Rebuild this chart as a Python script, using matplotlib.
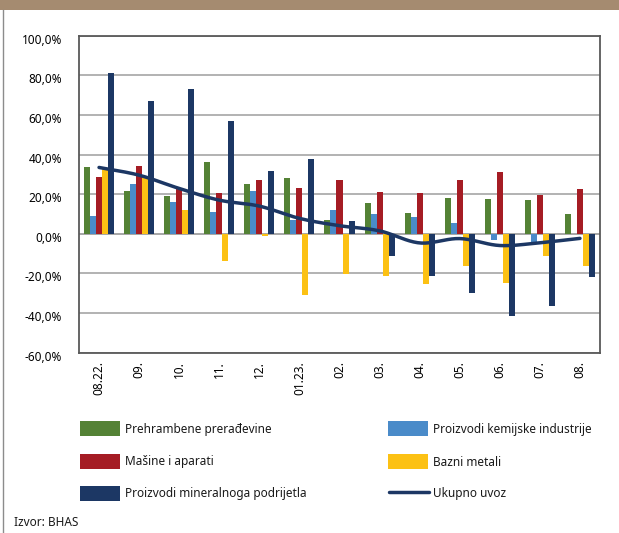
import numpy as np
import matplotlib
matplotlib.use("Agg")
import matplotlib.pyplot as plt
import matplotlib.transforms as mtransforms
from matplotlib.patches import Rectangle
from matplotlib.lines import Line2D

categories = ["08.22.", "09.", "10.", "11.", "12.", "01.23.", "02.", "03.", "04.", "05.", "06.", "07.", "08."]
prehrambene = [33.5, 21.7, 18.9, 36.4, 24.9, 28.3, 6.8, 15.5, 10.5, 18.2, 17.4, 16.9, 10.1]
kemijske = [8.9, 24.9, 15.9, 11.0, 21.4, 6.8, 12.0, 10.1, 8.4, 5.6, -3.2, -4.4, 0.0]
masine = [28.5, 34.2, 22.6, 20.6, 27.1, 22.9, 27.1, 21.2, 20.6, 27.1, 31.3, 19.5, 22.4]
bazni = [32.5, 28.8, 12.1, -13.8, -1.2, -30.8, -20.5, -21.5, -25.3, -16.0, -24.9, -11.1, -16.0]
mineralni = [81.0, 67.2, 73.1, 56.8, 31.7, 37.7, 6.6, -11.3, -21.4, -30.1, -41.7, -36.5, -22.0]
ukupno = [33.5, 29.6, 22.9, 17.0, 14.0, 7.8, 4.1, 1.5, -4.6, -2.4, -5.9, -4.5, -2.3]
yticks = [100, 80, 60, 40, 20, 0, -20, -40, -60]
ytick_labels = ["100,0%", "80,0%", "60,0%", "40,0%", "20,0%", "0,0%", "-20,0%", "-40,0%", "-60,0%"]

series_names = ["Prehrambene prerađevine", "Proizvodi kemijske industrije", "Mašine i aparati",
                "Bazni metali", "Proizvodi mineralnoga podrijetla"]
colors = ["#548235", "#4A8BC9", "#A51C24", "#FCC114", "#1C3764"]
line_color = "#1C3764"

plt.rcParams['font.family'] = ['Noto Sans', 'DejaVu Sans']

W, H = 619, 533
fig = plt.figure(figsize=(W / 100, H / 100), dpi=100)
fig.patch.set_facecolor("white")

# top brown band and left border
fig.add_artist(Rectangle((0, 1 - 10 / H), 1, 10 / H, transform=fig.transFigure,
                         facecolor="#A58B70", edgecolor="none"))
fig.add_artist(Line2D([3 / W, 3 / W], [0, 1 - 10 / H], transform=fig.transFigure,
                      color="#8C8C8C", lw=1.0))

left, right, top, bottom = 79, 600, 35.7, 352.7
ax = fig.add_axes([left / W, 1 - bottom / H, (right - left) / W, (bottom - top) / H])

n = len(categories)
x = np.arange(n)
bw = 0.15
all_series = [prehrambene, kemijske, masine, bazni, mineralni]
for k, (vals, c) in enumerate(zip(all_series, colors)):
    ax.bar(x + (k - 2) * bw, vals, width=bw, color=c, edgecolor="none", zorder=3)

# smoothed line (Catmull-Rom through data points)
def catmull(xs, ys, steps=20):
    px = np.concatenate([[2 * xs[0] - xs[1]], xs, [2 * xs[-1] - xs[-2]]])
    py = np.concatenate([[2 * ys[0] - ys[1]], ys, [2 * ys[-1] - ys[-2]]])
    ox, oy = [], []
    for i in range(1, len(px) - 2):
        t = np.linspace(0, 1, steps, endpoint=False)
        for arr, out in ((px, ox), (py, oy)):
            p0, p1, p2, p3 = arr[i - 1], arr[i], arr[i + 1], arr[i + 2]
            out.extend(0.5 * ((2 * p1) + (-p0 + p2) * t + (2 * p0 - 5 * p1 + 4 * p2 - p3) * t ** 2
                              + (-p0 + 3 * p1 - 3 * p2 + p3) * t ** 3))
    ox.append(xs[-1]); oy.append(ys[-1])
    return np.array(ox), np.array(oy)

sx, sy = catmull(x.astype(float), np.array(ukupno, dtype=float))
ax.plot(sx, sy, color=line_color, lw=2.5, zorder=4, solid_capstyle="round")

ax.set_xlim(-0.5, n - 0.5)
ax.set_ylim(-60, 100)
ax.set_yticks(yticks)
ax.set_yticklabels(ytick_labels, fontsize=8.5)
ax.set_xticks(x)
ax.set_xticklabels(categories, rotation=90, fontsize=8.5)
ax.tick_params(axis="x", length=0, pad=6)
ax.tick_params(axis="y", length=0, pad=12)
shift = mtransforms.ScaledTranslation(0, -3 / 100, fig.dpi_scale_trans)
for lbl in ax.get_yticklabels():
    lbl.set_transform(lbl.get_transform() + shift)
ax.yaxis.grid(True, color="#A6A6A6", lw=1.2, zorder=1)
ax.set_axisbelow(True)
for s in ax.spines.values():
    s.set_color("#595959")
    s.set_linewidth(1.3)
ax.axhline(0, color="#A6A6A6", lw=1.2, zorder=2)

# legend
def fx(px):
    return px / W
def fy(py):
    return 1 - py / H

legend_items = [
    (80, 429, "patch", colors[0], series_names[0]),
    (388, 429, "patch", colors[1], series_names[1]),
    (80, 462, "patch", colors[2], series_names[2]),
    (388, 462, "patch", colors[3], series_names[3]),
    (80, 494, "patch", colors[4], series_names[4]),
    (388, 494, "line", line_color, "Ukupno uvoz"),
]
for px, py, kind, c, label in legend_items:
    if kind == "patch":
        fig.add_artist(Rectangle((fx(px), fy(py + 7)), 40 / W, 15 / H, transform=fig.transFigure,
                                 facecolor=c, edgecolor="none"))
    else:
        fig.add_artist(Line2D([fx(px + 1), fx(px + 41)], [fy(py - 2), fy(py - 2)], transform=fig.transFigure,
                              color=c, lw=2.5, solid_capstyle="round"))
    fig.text(fx(px + 45), fy(py), label, fontsize=8.5, va="center", ha="left", color="#1a1a1a")

fig.text(fx(14), fy(523), "Izvor: BHAS", fontsize=8.5, va="center", ha="left", color="#1a1a1a")

fig.savefig("out.png", dpi=100)
